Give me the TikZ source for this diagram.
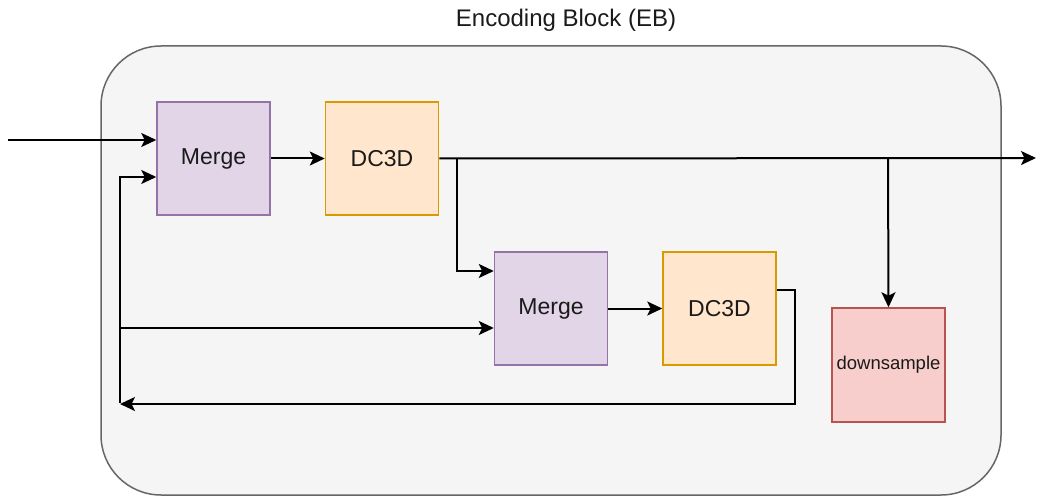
\documentclass[tikz,border=0pt]{standalone}
\usepackage{fontspec}
\setmainfont{Liberation Sans}
\usetikzlibrary{arrows.meta}
\definecolor{ebfill}{HTML}{F5F5F5}
\definecolor{ebdraw}{HTML}{666666}
\definecolor{mfill}{HTML}{E1D5E7}
\definecolor{mdraw}{HTML}{9673A6}
\definecolor{dfill}{HTML}{FFE6CC}
\definecolor{ddraw}{HTML}{D79B00}
\definecolor{sfill}{HTML}{F8CECC}
\definecolor{sdraw}{HTML}{B85450}
\definecolor{txt}{HTML}{1A1A1A}
\tikzset{
  box/.style={draw, line width=1.5pt, minimum width=113pt, minimum height=113pt, inner sep=0pt, text=txt, font=\fontsize{23}{26}\selectfont},
  mergebox/.style={box, fill=mfill, draw=mdraw},
  dcbox/.style={box, fill=dfill, draw=ddraw},
  dsbox/.style={box, fill=sfill, draw=sdraw, minimum width=113pt, minimum height=114pt, font=\fontsize{18.5}{21}\selectfont},
  arr/.style={line width=2pt, -{Stealth[length=15pt, width=14pt, inset=3.5pt]}},
}
\begin{document}
\begin{tikzpicture}[x=1pt,y=-1pt]
\useasboundingbox (0,0) rectangle (1041,497);
\node[draw=ebdraw, fill=ebfill, line width=1.5pt, rounded corners=60pt, minimum width=900pt, minimum height=449pt] (eb) at (551,270.5) {};
\node[text=txt, font=\fontsize{24}{28}\selectfont] (title) at (566,20) {Encoding Block (EB)};
\node[mergebox] (m1) at (213.5,158.5) {Merge};
\node[dcbox] (d1) at (382,158.5) {DC3D};
\node[mergebox] (m2) at (551,308.5) {Merge};
\node[dcbox] (d2) at (719.5,308.5) {DC3D};
\node[dsbox] (ds) at (888.5,365) {downsample};
\coordinate (in) at (8,140);
\coordinate (out) at (1036,158);
\coordinate (b1) at (457,158);
\coordinate (b2) at (888,158);
\coordinate (fb) at (795,404);
\coordinate (fbend) at (120,404);
\coordinate (lv) at (120,403);
\coordinate (lj) at (120,328);
\draw[arr] (in) -- (in -| m1.west);
\draw[arr] (m1.east) -- (d1.west);
\draw[arr] (d1.east) -- (out);
\draw[arr] (b1) |- ([yshift=37.5pt]m2.west);
\draw[arr] (b2) -- (ds.north);
\draw[arr] (m2.east) -- (d2.west);
\draw[arr] ([yshift=18.5pt]d2.east) -| (fb) -- (fbend);
\draw[arr] (lv) |- ([yshift=-18.5pt]m1.west);
\draw[arr] (lj) -- (lj -| m2.west);
\end{tikzpicture}
\end{document}
